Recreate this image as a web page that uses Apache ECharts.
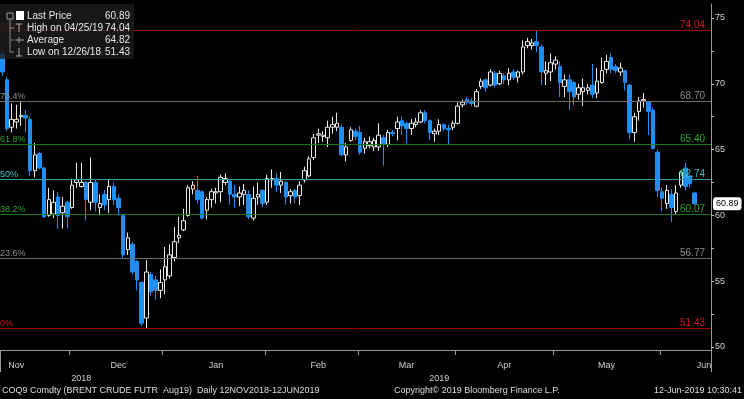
<!DOCTYPE html>
<html><head><meta charset="utf-8">
<script src="https://cdn.jsdelivr.net/npm/echarts@6/dist/echarts.min.js"></script>
<style>html,body{margin:0;padding:0;background:#000;}#c{width:744px;height:399px;}</style>
</head><body><div id="c"></div>
<script>
// ---- data ----
const opens  = [72.2,70.3,66.7,67.1,67.5,67.6,67.3,63.4,64.7,63.6,60.0,60.1,61.4,60.2,61.0,
  60.6,62.5,62.2,62.5,61.0,62.5,60.6,61.6,61.2,62.2,61.3,60.0,57.4,57.8,56.5,54.9,52.2,55.5,55.1,54.3,
  55.1,55.4,56.8,58.3,58.9,60.0,62.0,61.9,61.8,60.4,61.2,61.7,61.8,62.5,62.6,61.6,61.4,61.6,61.6,59.8,61.4,61.9,
  61.0,62.7,62.8,62.3,62.5,61.5,61.9,61.5,62.7,63.0,64.4,66.1,66.0,65.9,66.7,66.7,66.7,64.6,65.7,66.4,
  66.3,65.1,65.3,65.2,65.2,65.9,65.4,66.3,66.6,67.2,67.0,66.6,66.9,67.1,67.8,67.2,66.2,66.4,66.9,66.6,66.7,
  67.0,68.4,68.8,68.7,68.3,69.8,70.3,69.9,70.8,70.0,70.6,70.3,70.9,70.5,70.9,72.9,72.9,73.2,72.8,70.8,70.9,
  71.5,71.3,69.8,70.3,70.1,69.2,69.4,69.5,69.9,69.3,70.1,71.1,72.0,71.3,70.9,71.0,69.9,66.3,67.9,68.7,68.6,68.0,64.8,
  61.8,60.9,61.6,60.3,62.3,63.6,63.0,61.7];
const closes = [70.9,66.6,67.3,67.3,67.6,67.4,63.4,64.6,63.6,59.9,61.2,61.0,60.0,60.7,59.9,
  62.3,62.7,62.5,61.2,62.5,61.0,60.9,60.8,62.2,61.2,60.6,57.0,58.3,55.7,55.1,51.8,55.7,54.2,54.3,54.9,
  56.1,57.0,58.0,58.5,59.6,62.1,62.3,61.2,59.8,61.2,61.8,61.8,62.9,62.8,61.6,61.4,61.7,61.9,59.9,61.3,61.6,60.9,
  62.8,62.8,62.3,62.6,61.4,61.8,61.4,62.3,63.4,64.3,65.9,66.2,66.1,66.7,66.9,67.0,64.6,65.2,66.5,66.0,
  64.8,65.6,65.6,65.7,66.1,65.4,66.3,66.2,67.1,66.8,66.6,67.0,67.1,67.8,67.2,66.3,66.4,66.9,66.6,66.5,67.0,
  68.3,68.6,68.6,68.5,69.4,70.2,69.7,70.9,69.9,70.8,70.3,70.8,70.5,70.9,72.8,73.2,73.1,72.9,70.9,71.0,71.6,
  71.8,70.1,70.3,69.4,69.0,69.7,69.7,69.7,69.2,70.2,71.0,71.7,71.1,71.0,71.2,70.1,66.3,67.5,68.7,68.8,67.9,65.1,61.9,
  61.3,61.9,60.6,61.7,63.3,62.2,62.4,60.89];
const lows   = [70.6,66.4,66.3,66.6,66.8,66.3,63.0,62.9,63.5,59.8,59.9,59.8,59.0,59.0,59.0,
  60.5,62.1,62.1,59.6,60.4,60.3,60.0,60.4,60.2,60.8,60.0,56.7,57.0,55.5,54.3,51.6,51.43,53.9,53.6,53.7,
  54.0,55.2,56.5,57.9,58.8,59.9,61.6,60.9,59.7,59.7,60.6,60.9,61.0,62.3,60.8,60.6,60.7,60.8,59.7,59.6,60.8,60.6,
  60.8,62.1,61.8,61.7,60.8,60.9,60.9,60.8,62.5,62.9,64.2,65.5,65.6,65.2,66.2,66.4,64.5,64.1,65.6,65.7,
  64.6,64.7,65.1,64.9,64.9,63.8,65.2,66.0,65.7,66.1,65.5,66.1,66.7,67.0,67.0,65.7,65.6,66.1,66.4,65.4,66.5,
  66.9,68.2,68.4,68.3,68.2,69.6,69.4,69.8,69.7,69.9,70.0,69.9,70.3,70.1,70.7,72.7,72.6,72.4,69.9,69.9,70.2,
  71.1,69.0,69.0,68.0,68.4,68.8,68.3,69.2,68.9,68.9,70.0,70.8,70.8,70.8,70.6,69.5,65.8,65.6,67.2,68.2,66.1,65.0,61.4,
  60.3,60.5,59.5,60.1,62.1,61.9,62.1,60.8];
const highs  = [72.5,70.5,68.5,68.4,68.6,68.0,67.5,65.5,64.8,63.7,62.1,61.9,61.8,61.4,61.1,
  62.8,64.0,64.0,62.6,64.4,62.7,61.6,61.9,62.7,62.5,61.6,60.1,58.7,58.0,56.6,55.0,56.6,55.7,55.4,55.9,
  57.6,57.8,59.1,59.9,60.5,62.3,62.6,63.0,61.9,61.4,62.0,62.1,63.1,63.2,62.7,62.3,62.2,62.4,61.9,62.2,62.5,62.0,
  63.1,63.5,63.2,63.3,62.6,62.0,62.0,62.6,63.7,64.5,66.2,66.6,66.4,67.2,67.5,67.8,66.9,65.5,66.7,66.6,
  66.8,65.9,66.0,65.9,67.0,66.1,66.5,66.5,67.5,67.5,67.1,67.3,67.4,68.0,68.0,67.3,66.6,67.3,67.0,66.9,67.2,
  68.6,68.8,69.0,68.9,69.6,70.4,70.4,71.1,71.0,71.0,70.8,71.2,71.1,71.0,73.3,73.5,73.4,74.04,73.0,71.7,72.3,
  72.1,71.7,70.7,70.7,70.2,70.0,70.4,70.0,71.5,71.2,72.0,72.2,72.3,71.5,71.6,71.0,70.0,67.8,69.0,69.3,68.7,68.2,65.0,
  62.1,62.3,62.0,62.3,63.4,64.0,63.1,61.8];
const holidays = ['2018-12-25','2019-01-01','2019-04-19'];
const monthNames    = ['Nov','Dec','Jan','Feb','Mar','Apr','May','Jun'];
const monthLabelIdx = [3,25,46,68,87,108,130,151];
const yearNames     = ['2018','2019'];
const yearLabelIdx  = [17,94];
const fibPct    = ['0%','23.6%','38.2%','50%','61.8%','76.4%','100%'];
const fibValues = [51.43,56.77,60.07,62.74,65.40,68.70,74.04];
const legendNames  = ['Last Price','High on 04/25/19','Average','Low on 12/26/18'];
const legendValues = [60.89,74.04,64.82,51.43];
const lastPrice = 60.89;
const yTicks = {min:50, max:75, interval:5};

// ---- trading-day categories ----
const dates = [];
for (let d = new Date(Date.UTC(2018,10,12)); d <= new Date(Date.UTC(2019,5,12)); d.setUTCDate(d.getUTCDate()+1)) {
  const wd = d.getUTCDay();
  const s = d.toISOString().slice(0,10);
  if (wd === 0 || wd === 6 || holidays.includes(s)) continue;
  dates.push(s);
}
const cats = dates.concat(['p1','p2','p3']);
const monthStartIdx = [];
for (let i = 1; i < dates.length; i++) if (dates[i].slice(5,7) !== dates[i-1].slice(5,7)) monthStartIdx.push(i);
const yearStartIdx = [];
for (let i = 1; i < dates.length; i++) if (dates[i].slice(0,4) !== dates[i-1].slice(0,4)) yearStartIdx.push(i);

const ohlc = opens.map((o,i) => [o, closes[i], lows[i], highs[i]]);

const fibLine  = ['#a00000','#6e6e6e','#157a15','#2d9c9c','#157a15','#6e6e6e','#a00000'];
const fibLabel = ['#d41a1a','#8c8c8c','#2ea52e','#3fc3c3','#2ea52e','#8c8c8c','#d41a1a'];
const FONT = 'Liberation Sans, Arial, sans-serif';

const markData = [];
fibValues.forEach((v,k) => {
  markData.push({yAxis: v, lineStyle:{color: fibLine[k], width:1, type:'solid'},
    label:{show:true, position:'insideEndTop', distance:[6,0], formatter: v.toFixed(2), color: fibLabel[k], fontSize:10, fontFamily: FONT}});
  markData.push({yAxis: v, lineStyle:{color:'rgba(0,0,0,0)', width:0},
    label:{show:true, position:'insideStartTop', distance:[0,0], formatter: fibPct[k], color: fibLabel[k], fontSize:9, fontFamily: FONT}});
});

const chart = echarts.init(document.getElementById('c'), null, {renderer:'canvas'});

const legendG = [
  {type:'rect', shape:{x:0,y:4,width:134,height:55}, style:{fill:'rgba(30,30,30,0.78)'}, z:100},
  {type:'rect', shape:{x:7,y:13,width:6,height:6}, style:{fill:'none', stroke:'#999', lineWidth:1}, z:101},
  {type:'rect', shape:{x:16,y:11,width:8,height:9}, style:{fill:'#fff'}, z:101},
  {type:'line', shape:{x1:10,y1:19,x2:10,y2:52}, style:{stroke:'#888', lineWidth:1}, z:101},
  {type:'line', shape:{x1:10,y1:28,x2:14,y2:28}, style:{stroke:'#888'}, z:101},
  {type:'line', shape:{x1:10,y1:40,x2:14,y2:40}, style:{stroke:'#888'}, z:101},
  {type:'line', shape:{x1:10,y1:52,x2:14,y2:52}, style:{stroke:'#888'}, z:101},
  {type:'line', shape:{x1:16,y1:24,x2:22,y2:24}, style:{stroke:'#aaa'}, z:101},
  {type:'line', shape:{x1:19,y1:24,x2:19,y2:32}, style:{stroke:'#aaa'}, z:101},
  {type:'line', shape:{x1:15,y1:40,x2:24,y2:40}, style:{stroke:'#aaa'}, z:101},
  {type:'line', shape:{x1:19,y1:37,x2:19,y2:43}, style:{stroke:'#aaa'}, z:101},
  {type:'line', shape:{x1:19,y1:48,x2:19,y2:56}, style:{stroke:'#aaa'}, z:101},
  {type:'line', shape:{x1:16,y1:56,x2:22,y2:56}, style:{stroke:'#aaa'}, z:101}
];
legendNames.forEach((n,k) => {
  legendG.push({type:'text', x:27, y:16 + 12*k, style:{text:n, fill:'#e6e6e6', font:'10px '+FONT, textVerticalAlign:'middle'}, z:102});
  legendG.push({type:'text', x:130, y:16 + 12*k, style:{text:legendValues[k].toFixed(2), fill:'#e6e6e6', font:'10px '+FONT, textAlign:'right', textVerticalAlign:'middle'}, z:102});
});
const footer = [
  {type:'text', left:2, top:386, style:{text:'COQ9 Comdty (BRENT CRUDE FUTR  Aug19)  Daily 12NOV2018-12JUN2019', fill:'#ddd', font:'9px '+FONT}},
  {type:'text', left:394, top:386, style:{text:'Copyright\u00A9 2019 Bloomberg Finance L.P.', fill:'#ddd', font:'9px '+FONT}},
  {type:'text', right:2, top:386, style:{text:'12-Jun-2019 10:30:41', fill:'#ddd', font:'9px '+FONT}}
];

chart.setOption({
  backgroundColor:'#000',
  animation:false,
  grid:[
    {left:-1, right:33, top:18, height:329, containLabel:false},
    {left:-1, right:33, top:4, height:346, containLabel:false}
  ],
  xAxis:[
    {type:'category', gridIndex:0, data:cats, boundaryGap:true, show:false},
    {type:'category', gridIndex:1, data:cats, boundaryGap:true, position:'bottom', offset:0,
      axisLine:{show:true, lineStyle:{color:'#9a9a9a', width:1}},
      axisTick:{show:true, length:5, interval:(i)=>monthStartIdx.includes(i), lineStyle:{color:'#9a9a9a'}},
      axisLabel:{show:true, interval:(i)=>monthLabelIdx.includes(i), formatter:(v,i)=>monthNames[monthLabelIdx.indexOf(i)] || '',
        color:'#cfcfcf', fontSize:9, fontFamily:FONT, margin:11},
      splitLine:{show:false}},
    {type:'category', gridIndex:1, data:cats, boundaryGap:true, position:'bottom', offset:0,
      axisLine:{show:false},
      axisTick:{show:true, length:22, interval:(i)=>yearStartIdx.includes(i), lineStyle:{color:'#9a9a9a'}},
      axisLabel:{show:true, interval:(i)=>yearLabelIdx.includes(i), formatter:(v,i)=>yearNames[yearLabelIdx.indexOf(i)] || '',
        color:'#cfcfcf', fontSize:9, fontFamily:FONT, margin:24},
      splitLine:{show:false}}
  ],
  yAxis:[
    {type:'value', gridIndex:0, position:'right', min:yTicks.min, max:yTicks.max, interval:yTicks.interval,
      axisLine:{show:false},
      axisTick:{show:true, length:3, lineStyle:{color:'#bdbdbd'}},
      minorTick:{show:true, splitNumber:2, length:3, lineStyle:{color:'#bdbdbd'}},
      axisLabel:{color:'#d0d0d0', fontSize:9, fontFamily:FONT, margin:4},
      splitLine:{show:false}, minorSplitLine:{show:false},
      axisPointer:{show:true, type:'line', value:lastPrice, status:'show', triggerTooltip:false, snap:false,
        lineStyle:{color:'rgba(0,0,0,0)', width:0},
        label:{show:true, backgroundColor:'#fff', color:'#000', fontSize:9, fontFamily:FONT, padding:[2,3,2,3], margin:2,
          formatter:()=>lastPrice.toFixed(2)}}},
    {type:'value', gridIndex:1, position:'right', min:0, max:1,
      axisLine:{show:true, lineStyle:{color:'#9a9a9a'}}, axisTick:{show:false}, axisLabel:{show:false}, splitLine:{show:false}}
  ],
  series:[{
    type:'candlestick', xAxisIndex:0, yAxisIndex:0, data:ohlc, barWidth:4,
    itemStyle:{color:'#000', color0:'#1f8ef5', borderColor:'#e8e8e8', borderColor0:'#1f8ef5', borderWidth:1},
    markLine:{silent:true, symbol:['none','none'], animation:false, data:markData}
  }],
  graphic: legendG.concat(footer)
});
</script></body></html>
